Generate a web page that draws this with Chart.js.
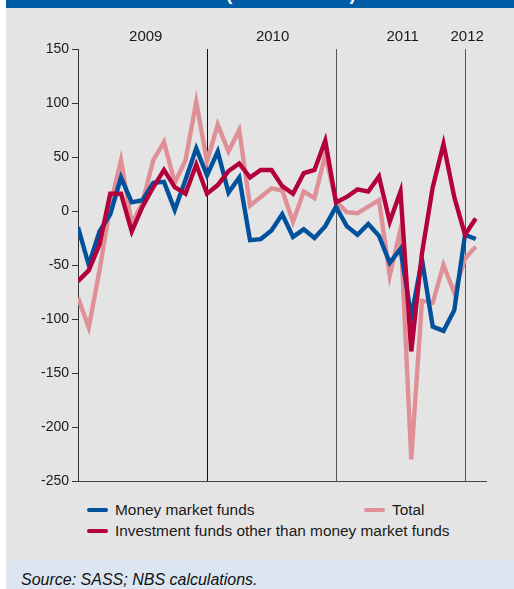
<!DOCTYPE html>
<html>
<head>
<meta charset="utf-8">
<script src="https://cdn.jsdelivr.net/npm/chart.js@4/dist/chart.umd.min.js"></script>
<style>
  body { margin: 0; background: #fff; width: 514px; height: 589px; overflow: hidden; position: relative; font-family: "Liberation Sans", Arial, sans-serif; }
  #head { position: absolute; left: 6px; top: 0; width: 508px; height: 8px; background: #005ca5; overflow: hidden; }
  #head span { position: absolute; left: 220px; top: -17px; color: #fff; font-size: 19px; font-weight: bold; white-space: nowrap; }
  #panel { position: absolute; left: 6px; top: 8px; width: 508px; height: 553px; background: #e4e4e4; }
  #foot { position: absolute; left: 6px; top: 561px; width: 508px; height: 28px; background: #dce6f0; overflow: hidden; }
  #foot span { position: absolute; left: 15px; top: 10px; font-style: italic; font-size: 16px; color: #111; white-space: nowrap; }
  canvas { position: absolute; left: 0; top: 0; }
  .lg { position: absolute; font-size: 15.4px; color: #1a1a1a; white-space: nowrap; line-height: 18px; }
  .sw { position: absolute; width: 21px; height: 4px; border-radius: 2px; }
</style>
</head>
<body>
<div id="head"><span>(EUR millions)</span></div>
<div id="panel"></div>
<canvas id="myChart" width="514" height="495"></canvas>
<div id="legend"></div>
<div id="foot"><span>Source: SASS; NBS calculations.</span></div>
<script>
// monthly data, Jan 2009 - Feb 2012
const months = [
  "2009-01", "2009-02", "2009-03", "2009-04", "2009-05", "2009-06",
  "2009-07", "2009-08", "2009-09", "2009-10", "2009-11", "2009-12",
  "2010-01", "2010-02", "2010-03", "2010-04", "2010-05", "2010-06",
  "2010-07", "2010-08", "2010-09", "2010-10", "2010-11", "2010-12",
  "2011-01", "2011-02", "2011-03", "2011-04", "2011-05", "2011-06",
  "2011-07", "2011-08", "2011-09", "2011-10", "2011-11", "2011-12",
  "2012-01", "2012-02",
];
const moneyMarket = [-15, -50, -19, -3, 31, 8, 10, 26, 27, 1, 29, 58,
  33, 55, 17, 31, -27, -26, -18, -3, -24, -17, -25, -14,
  4, -14, -22, -12, -23, -48, -35, -98, -45, -107, -111, -92,
  -22, -26];
const otherFunds = [-65, -55, -31, 16, 16, -19, 4, 22, 38, 22, 16, 43,
  16, 24, 37, 44, 31, 38, 38, 23, 16, 35, 38, 65,
  8, 13, 20, 18, 32, -10, 18, -130, -39, 22, 62, 13,
  -22, -7];
const total = [-80, -108, -55, 5, 47, -12, 8, 47, 64, 26, 47, 101,
  46, 80, 55, 75, 5, 13, 21, 19, -10, 18, 12, 52,
  9, -1, -2, 4, 10, -60, -17, -230, -83, -85, -50, -76,
  -44, -33];
const years = ["2009", "2010", "2011", "2012"];
const yTicks = [150, 100, 50, 0, -50, -100, -150, -200, -250];

const blue = "#00519b";
const red = "#b3003c";
const pink = "#df9096";

function pts(arr) {
  return arr.map(function (v, i) { return { x: months.indexOf(months[i]), y: v }; });
}

const series = [
  { label: "Investment funds other than money market funds", data: otherFunds, color: red },
  { label: "Money market funds", data: moneyMarket, color: blue },
  { label: "Total", data: total, color: pink },
];

// legend (html, laid out like the original)
const legendPos = {
  "Money market funds": [87, 510],
  "Total": [364, 510],
  "Investment funds other than money market funds": [87, 531],
};
var lg = document.getElementById("legend");
series.forEach(function (s) {
  var p = legendPos[s.label];
  var sw = document.createElement("div");
  sw.className = "sw";
  sw.style.left = p[0] + "px";
  sw.style.top = (p[1] - 2) + "px";
  sw.style.background = s.color;
  lg.appendChild(sw);
  var t = document.createElement("div");
  t.className = "lg";
  t.textContent = s.label;
  t.style.left = (p[0] + 28) + "px";
  t.style.top = (p[1] - 9) + "px";
  lg.appendChild(t);
});

const ctx = document.getElementById("myChart");
new Chart(ctx, {
  type: "line",
  data: {
    datasets: series.map(function (s) {
      return {
        label: s.label,
        data: pts(s.data),
        borderColor: s.color,
        backgroundColor: s.color,
        borderWidth: 4.4,
        pointRadius: 0,
        tension: 0,
        fill: false,
        borderJoinStyle: "miter",
      };
    }),
  },
  options: {
    responsive: false,
    animation: false,
    layout: { padding: { left: 0, right: 27.5, top: 0, bottom: 14 } },
    plugins: { legend: { display: false }, tooltip: { enabled: false } },
    scales: {
      x: {
        type: "linear",
        position: "bottom",
        min: 0,
        max: 38,
        z: 1,
        afterBuildTicks: function (scale) {
          scale.ticks = [{ value: 12 }, { value: 24 }, { value: 36 }];
        },
        afterFit: function (scale) { scale.height = 0; },
        ticks: { display: false },
        grid: {
          drawTicks: false,
          color: ["#111", "#555", "#555"],
          lineWidth: 1,
        },
        border: { display: true, color: "#444", width: 1 },
      },
      xTop: {
        type: "linear",
        position: "top",
        min: 0,
        max: 38,
        afterBuildTicks: function (scale) {
          scale.ticks = [6.3, 18.1, 30.2, 36.2].map(function (v) { return { value: v }; });
        },
        afterFit: function (scale) { scale.height = 49; },
        ticks: {
          autoSkip: false,
          maxRotation: 0,
          padding: 3,
          color: "#1a1a1a",
          font: { family: "Liberation Sans", size: 15 },
          callback: function (v, i) { return years[i]; },
        },
        grid: { display: false, drawTicks: false, tickLength: 0 },
        border: { display: false },
      },
      y: {
        min: -250,
        max: 150,
        afterBuildTicks: function (scale) {
          scale.ticks = yTicks.map(function (v) { return { value: v }; });
        },
        afterFit: function (scale) { scale.width = 78; },
        ticks: {
          padding: 3,
          color: "#1a1a1a",
          font: { family: "Liberation Sans", size: 14 },
        },
        grid: { drawOnChartArea: false, drawTicks: true, tickLength: 6, color: "#333" },
        border: { display: true, color: "#333", width: 1 },
      },
    },
  },
});
</script>
</body>
</html>
